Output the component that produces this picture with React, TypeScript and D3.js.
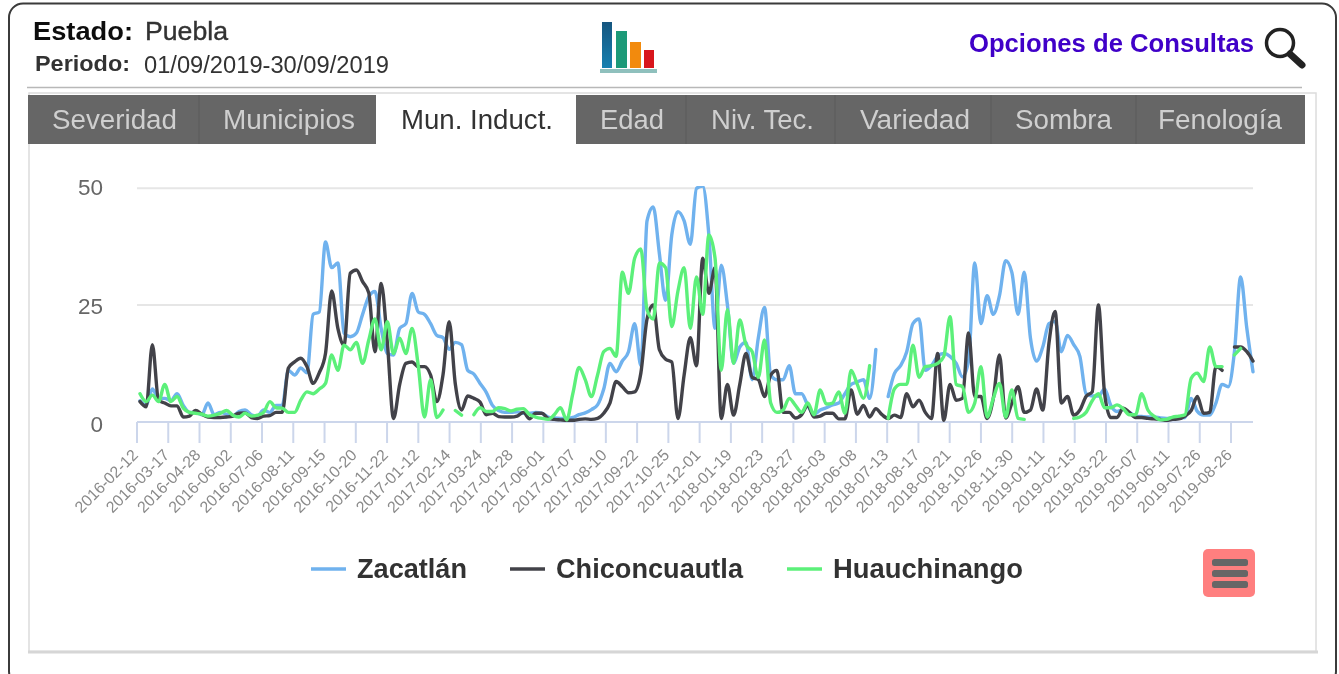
import React from "react";
import * as d3 from "d3";

const N: null = null;
const tickLabels = ["2016-02-12","2016-03-17","2016-04-28","2016-06-02","2016-07-06","2016-08-11","2016-09-15","2016-10-20","2016-11-22","2017-01-12","2017-02-14","2017-03-24","2017-04-28","2017-06-01","2017-07-07","2017-08-10","2017-09-22","2017-10-25","2017-12-01","2018-01-19","2018-02-23","2018-03-27","2018-05-03","2018-06-08","2018-07-13","2018-08-17","2018-09-21","2018-10-26","2018-11-30","2019-01-11","2019-02-15","2019-03-22","2019-05-07","2019-06-11","2019-07-26","2019-08-26"];
const tabs = ["Severidad","Municipios","Mun. Induct.","Edad","Niv. Tec.","Variedad","Sombra","Fenología"];
const yTicks = [0,25,50];

const zacatlan: (number|null)[] = [4.5,3.5,7,5,5,4.5,6,3.5,2,2,1.5,4,1.5,2,1.6,1.2,2.2,2.5,1.5,1.2,2.5,2,3.5,3.5,11,10,11.5,10.5,23,23.5,38.5,33,34,19,18.2,19,23,26.8,27.9,20,14.6,14.3,20,21,27.5,23.5,23,21,18.5,18,15.5,17,16.5,11,10.2,8.2,6.3,3.5,2.4,2,2,2.1,1.8,1.8,2,1.8,1,.8,.7,.7,.9,1.5,1.9,2.6,3.6,7,12.5,10.7,13,15,21,12,43,46,36,26,40,45,43,38,50,50.5,40,20,33.5,25,12.5,16,17,9,18,24.5,10,9,9,12,6,6,3.5,1.5,2.5,3,3.6,4,6,8,8.5,9,5,15.5,N,5.4,10.3,12,15,21,22,11,12,14,14.6,14,12.5,9.6,13,34,21,27,23,27,34.5,32,23,32,18,13,16,21,21.5,15,18.5,16.5,14,6,5.5,5.5,7,3.5,2.2,2.6,2,1.2,1.1,1,1,.8,.7,.8,.8,.9,5,2.2,1.4,1.4,4,8,7.5,15,31,20,10.7];
const chiconcuautla: (number|null)[] = [4.3,3.2,16.5,4.6,4,3.4,3.4,1,1.2,2.4,1.6,1,.9,.9,1,1.2,1.8,1.9,.9,.7,1.2,1.3,2,2,11.5,12.8,13.6,11.8,8.2,10.5,14.6,28,20,16.4,31.8,32.5,30,27.6,15,29.6,17,.7,8,12.5,12.8,11.8,11.8,10,4.3,10,21.4,8,2.5,5.5,5,4.2,1.5,1.8,1.1,1,1,1.2,2,.6,1.8,1.8,.7,.5,.4,.3,.3,.5,.6,.5,.7,1.8,4,8.6,7.5,6.2,6.4,10.4,22,25,15.4,13.4,12.8,.7,10,18,12,35,27.5,33,.7,8,1.4,8,14.6,9.5,9,5.4,10,11,2,2,.8,1.5,3.5,1,1.2,1.8,1.8,.6,.6,6.8,1.6,3.5,1,2.8,1.5,.7,1.4,.9,6,3.2,4.6,2,.7,14.6,.3,8,4.6,5,19,5.4,5.4,.7,5,14.3,.8,4,7.5,2,2.5,7,2.5,16.8,23.6,4,5.4,1.4,2.5,5.4,6.4,25,6,.9,.9,2.9,2,.9,.9,.7,.6,.5,.3,.5,.6,1.2,2.4,5.4,1.8,2,11.8,11,N,16,16,15,13];
const huauchinango: (number|null)[] = [6,4.3,5.7,4.3,8,4.3,5.4,2.9,2,1.8,1.6,1.2,1.4,1.8,2.4,1.4,1,1.8,1.2,1.4,2,4.3,3,2.9,2,2,4.6,6.4,6,7,8.2,14.3,11,16.4,15.4,17,12.5,17.5,22,15.4,21.4,14.6,17.9,14.6,20,12,1,9,.9,2.5,N,2.4,1.4,N,1.5,3,2.2,2.2,3,2.8,2.3,2.7,2.8,1.5,1,.7,.5,1.5,3,.4,6,11.6,9,5.4,10,15,15.7,14,32,27.5,35,37,24,22,34,33,20.4,28,33,20,31,23,40,35,11,24,12.5,21.8,16.5,15,9.5,17.5,4,2,2.5,5,3.5,2,4,1.5,6.8,3.8,4,6.4,1.8,11,8,5,12,N,N,.7,7,8,8,16.4,9.5,11.8,12,12.5,14,22.5,8,7.5,2,4,11.8,1,5,8.2,1,6.8,.7,.5,N,N,N,N,N,N,N,.7,1,2,4.5,6,3,3,3.6,2.8,1.5,1.5,6,2.5,1.2,.4,.5,1,1.2,1.5,9.3,10.4,8.6,16,11.8,11.8,N,14.3,15.7,N,N];

const seriesNames = ["Zacatlán","Chiconcuautla","Huauchinango"];
const seriesValues = [zacatlan, chiconcuautla, huauchinango];
const colors = ["#6fb2ee","#434348","#5cf07a"];
const legendX = [311,510,787];
const legendW = [110,187,190];

const x = d3.scaleLinear().domain([0,180]).range([140,1253]);
const y = d3.scaleLinear().domain([0,50]).range([421.7,188.3]);
const tickX = d3.scalePoint<string>().domain(tickLabels).range([137,1231]);
const line = d3.line<number|null>()
  .defined(d => d !== null)
  .x((_, i) => x(i))
  .y(d => y(d as number))
  .curve(d3.curveMonotoneX);

const tabEdges = [28,199,376,576,686,835,991,1136,1305];
const tabTextX = [52,223,401,600,711,860,1015,1158];
const tabTextW = [125,132,152,64,103,110,97,124];
const F = "'Liberation Sans', Arial, sans-serif";
const fit = (w: number) => ({ textLength: w, lengthAdjust: "spacingAndGlyphs" as const });

export default function App() {
  return (
    <svg width={1339} height={674} style={{position:"absolute",left:0,top:0,display:"block",background:"#fff"}} fontFamily={F}>
      <defs>
        <filter id="soft" x="-2%" y="-2%" width="104%" height="104%"><feGaussianBlur stdDeviation="0.7"/></filter>
        <clipPath id="plot"><rect x={130} y={186} width={1130} height={245}/></clipPath>
        <linearGradient id="b1" x1="0" y1="0" x2="0" y2="1"><stop offset="0" stopColor="#14567f"/><stop offset="1" stopColor="#1780b0"/></linearGradient>
      </defs>
      <g filter="url(#soft)">
        <rect x={9} y={3.5} width={1327} height={682} rx={14} fill="#fff" stroke="#3a3a3a" strokeWidth={2}/>
        <text x={33} y={40} fontSize={26} fontWeight="bold" fill="#111" {...fit(100)}>Estado:</text>
        <text x={145} y={40} fontSize={25.5} fill="#333" stroke="#333" strokeWidth={0.4} {...fit(83)}>Puebla</text>
        <text x={35} y={71} fontSize={21.5} fontWeight="bold" fill="#333" {...fit(95)}>Periodo:</text>
        <text x={144} y={73} fontSize={23} fill="#333" {...fit(245)}>01/09/2019-30/09/2019</text>
        <rect x={602} y={22} width={10} height={46} fill="url(#b1)"/>
        <rect x={616} y={31} width={11} height={37} fill="#1c9a78"/>
        <rect x={630} y={42} width={11} height={26} fill="#f28a10"/>
        <rect x={644} y={50} width={10} height={18} fill="#d8141c"/>
        <rect x={600} y={69} width={57} height={4} fill="#8fc0bd"/>
        <text x={969} y={52} fontSize={25.5} fontWeight="bold" fill="#3f00c8" {...fit(285)}>Opciones de Consultas</text>
        <circle cx={1280} cy={43} r={13.5} fill="none" stroke="#222" strokeWidth={3.5}/>
        <line x1={1290} y1={54} x2={1302} y2={65} stroke="#222" strokeWidth={7} strokeLinecap="round"/>
        <line x1={27} x2={1302} y1={87.5} y2={87.5} stroke="#b8b8b8" strokeWidth={1.5}/>
        <rect x={29} y={93} width={1287} height={558.5} fill="#fff" stroke="#dcdcdc" strokeWidth={1.5}/>
        <line x1={28} x2={1318} y1={652} y2={652} stroke="#d6d6d6" strokeWidth={3}/>

        {tabs.map((t,i) => {
          const active = i === 2;
          const a = tabEdges[i], b = tabEdges[i+1];
          return (
            <g key={t}>
              <rect x={a} y={95} width={b-a} height={49} fill={active ? "#fff" : "#666"}/>
              {!active && i>0 && i!==3 && <line x1={a} x2={a} y1={95} y2={144} stroke="#5a5a5a" strokeWidth={1}/>}
              <text x={tabTextX[i]} y={129} fontSize={27} fill={active ? "#333" : "#cfcfcf"} {...fit(tabTextW[i])}>{t}</text>
            </g>
          );
        })}

        {yTicks.map(v => (
          <g key={v}>
            {v>0 && <line x1={137} x2={1253} y1={y(v)} y2={y(v)} stroke="#e6e6e6" strokeWidth={2}/>}
            <text x={103} y={y(v)+(v===0?10.5:v===25?8.5:7)} textAnchor="end" fontSize={22.5} fill="#666">{v}</text>
          </g>
        ))}
        <line x1={137} x2={1253} y1={422} y2={422} stroke="#ccd6eb" strokeWidth={2}/>
        {tickLabels.map(l => {
          const tx = tickX(l) as number;
          return (
            <g key={l}>
              <line x1={tx} x2={tx} y1={422} y2={443} stroke="#ccd6eb" strokeWidth={2}/>
              <text transform={`translate(${tx+2},${456}) rotate(-45)`} textAnchor="end" fontSize={16} fill="#8a8a8a">{l}</text>
            </g>
          );
        })}
        <g clipPath="url(#plot)">
          {seriesValues.map((vals,i) => (
            <path key={seriesNames[i]} d={line(vals) || ""} fill="none" stroke={colors[i]} strokeWidth={3.4} strokeLinejoin="round" strokeLinecap="round"/>
          ))}
        </g>
        {seriesNames.map((n,i) => (
          <g key={n}>
            <line x1={legendX[i]} x2={legendX[i]+35} y1={569} y2={569} stroke={colors[i]} strokeWidth={3.5}/>
            <text x={legendX[i]+46} y={578} fontSize={27} fontWeight="bold" fill="#333" {...fit(legendW[i])}>{n}</text>
          </g>
        ))}
        <rect x={1203} y={549} width={52} height={48} rx={5} fill="#ff7f7f"/>
        {[559,570,581].map(v => <rect key={v} x={1212} y={v} width={36} height={7} rx={2.5} fill="#666"/>)}
      </g>
    </svg>
  );
}
